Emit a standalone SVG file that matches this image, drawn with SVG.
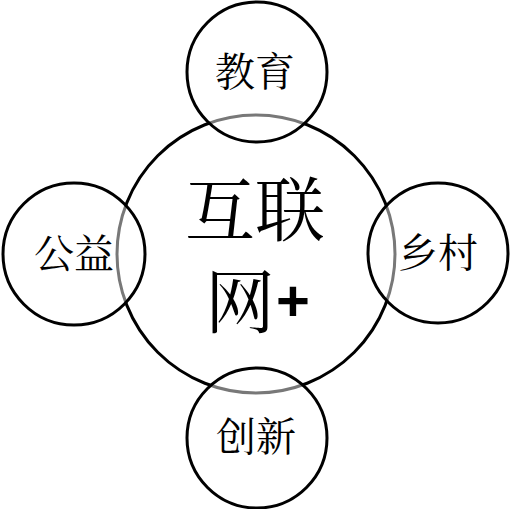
<svg xmlns="http://www.w3.org/2000/svg" width="513" height="509" viewBox="0 0 513 509">
<style>
.big{fill:none;stroke:#000;stroke-width:3}
.sm{fill:#fff;fill-opacity:0.47;stroke:#000;stroke-width:3}
.t{font-family:"Noto Serif CJK SC","Noto Sans CJK SC",serif;font-size:40px;fill:#000;text-anchor:middle;dominant-baseline:central}
.tb{font-family:"Noto Serif CJK SC","Noto Sans CJK SC",serif;font-size:70px;fill:#000}
.plus{font-family:"Liberation Sans",Arial,sans-serif;font-weight:bold;font-size:58px;fill:#000}
</style>
<rect width="513" height="509" fill="#fff"/>
<g id="center">
<circle class="big" cx="256" cy="254" r="139"/>
</g>
<g id="edu">
<circle class="sm" cx="257" cy="72" r="70"/>
<text class="t" x="255" y="68">教育</text>
</g>
<g id="welfare">
<circle class="sm" cx="74" cy="254" r="71"/>
<text class="t" x="74" y="250">公益</text>
</g>
<g id="rural">
<circle class="sm" cx="438" cy="253" r="70"/>
<text class="t" x="438" y="249">乡村</text>
</g>
<g id="innov">
<circle class="sm" cx="257" cy="438" r="70"/>
<text class="t" x="256" y="433">创新</text>
</g>
<g id="center-label">
<text class="tb" x="255" y="205" text-anchor="middle" dominant-baseline="central">互联</text>
<text class="tb" x="240" y="297" text-anchor="middle" dominant-baseline="central">网</text>
<text class="plus" x="293" y="300" text-anchor="middle" dominant-baseline="central">+</text>
</g>
<g id="connectors"></g>
</svg>
